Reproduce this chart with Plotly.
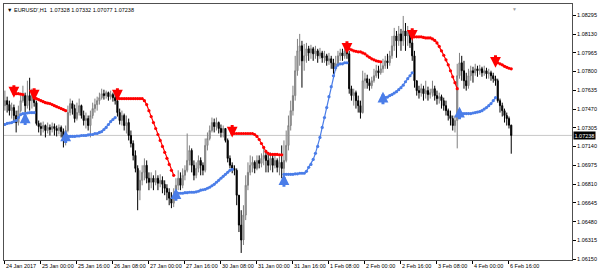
import plotly.graph_objects as go

# ---------------- data (EURUSD H1) ----------------
first_open = 1.07500
closes = [1.07544,1.07509,1.07456,1.07483,1.07413,1.07351,1.07456,1.07544,1.07588,1.07500,
1.07588,1.07544,1.07605,1.07526,1.07343,1.07316,1.07299,1.07325,1.07281,1.07308,
1.07290,1.07316,1.07299,1.07281,1.07308,1.07272,1.07194,1.07281,1.07439,1.07518,
1.07474,1.07386,1.07439,1.07500,1.07413,1.07369,1.07386,1.07325,1.07413,1.07474,
1.07509,1.07544,1.07570,1.07605,1.07588,1.07614,1.07579,1.07597,1.07570,1.07544,
1.07439,1.07369,1.07413,1.07325,1.07351,1.07237,1.07167,1.07062,1.06948,1.06756,
1.06843,1.06913,1.06975,1.06861,1.06826,1.06861,1.06826,1.06861,1.06817,1.06843,
1.06808,1.06773,1.06738,1.06686,1.06642,1.06712,1.06799,1.06861,1.06799,1.06887,
1.06931,1.07018,1.07106,1.06975,1.06887,1.06948,1.07018,1.06975,1.06931,1.07150,
1.07211,1.07281,1.07351,1.07316,1.07351,1.07299,1.07264,1.07299,1.07194,1.07036,
1.06975,1.06948,1.06931,1.06712,1.06449,1.06318,1.06537,1.06799,1.06913,1.06975,
1.07001,1.06948,1.07018,1.06992,1.07036,1.07062,1.07018,1.06975,1.07036,1.06975,
1.07018,1.06957,1.07001,1.06948,1.07018,1.07150,1.07325,1.07456,1.07588,1.07807,
1.07982,1.08026,1.07894,1.07938,1.08000,1.07964,1.08000,1.07956,1.07982,1.07938,
1.07964,1.07921,1.07938,1.07894,1.07912,1.07877,1.07824,1.07868,1.07938,1.07964,
1.07938,1.07982,1.07956,1.07649,1.07588,1.07614,1.07544,1.07500,1.07439,1.07719,
1.07737,1.07702,1.07675,1.07719,1.07763,1.07807,1.07789,1.07824,1.07851,1.07894,
1.07877,1.07938,1.08026,1.08113,1.08070,1.08131,1.08070,1.08157,1.08113,1.08140,
1.08052,1.07938,1.07719,1.07632,1.07614,1.07649,1.07605,1.07632,1.07597,1.07614,
1.07649,1.07588,1.07562,1.07579,1.07544,1.07500,1.07456,1.07413,1.07386,1.07325,
1.07369,1.07763,1.07877,1.07807,1.07719,1.07675,1.07763,1.07807,1.07789,1.07824,
1.07807,1.07824,1.07789,1.07807,1.07780,1.07789,1.07763,1.07737,1.07719,1.07544,
1.07500,1.07456,1.07413,1.07386,1.07328,1.07238]
highs = [1.07632,1.07579,1.07544,1.07526,1.07509,1.07456,1.07500,1.07588,1.07675,1.07614,
1.07719,1.07745,1.07649,1.07614,1.07544,1.07369,1.07351,1.07360,1.07334,1.07351,
1.07334,1.07351,1.07343,1.07325,1.07334,1.07325,1.07299,1.07325,1.07500,1.07562,
1.07544,1.07509,1.07526,1.07562,1.07509,1.07456,1.07439,1.07413,1.07456,1.07526,
1.07562,1.07579,1.07614,1.07649,1.07640,1.07632,1.07623,1.07632,1.07614,1.07605,
1.07579,1.07474,1.07456,1.07430,1.07413,1.07386,1.07281,1.07194,1.07106,1.06975,
1.06931,1.06975,1.07036,1.07018,1.06913,1.06913,1.06887,1.06931,1.06887,1.06896,
1.06878,1.06843,1.06808,1.06773,1.06738,1.06773,1.06861,1.06931,1.06913,1.06948,
1.06975,1.07255,1.07150,1.07124,1.07018,1.07001,1.07062,1.07045,1.07001,1.07211,
1.07264,1.07325,1.07395,1.07386,1.07395,1.07360,1.07334,1.07325,1.07299,1.07211,
1.07062,1.07001,1.06975,1.06948,1.06712,1.06580,1.06624,1.06887,1.07001,1.07062,
1.07053,1.07018,1.07062,1.07062,1.07080,1.07124,1.07106,1.07089,1.07089,1.07062,
1.07062,1.07036,1.07053,1.07150,1.07194,1.07281,1.07413,1.07544,1.07675,1.07938,
1.08087,1.08131,1.08070,1.08043,1.08052,1.08026,1.08035,1.08017,1.08026,1.08000,
1.08008,1.07982,1.07982,1.07956,1.07964,1.07938,1.07912,1.07938,1.07982,1.08000,
1.08000,1.08026,1.08026,1.07982,1.07675,1.07649,1.07632,1.07588,1.07544,1.07807,
1.07789,1.07772,1.07737,1.07754,1.07824,1.07859,1.07851,1.07877,1.07912,1.07938,
1.07956,1.07982,1.08113,1.08184,1.08157,1.08201,1.08175,1.08289,1.08227,1.08201,
1.08157,1.08087,1.07982,1.07719,1.07675,1.07693,1.07675,1.07719,1.07667,1.07649,
1.07719,1.07675,1.07632,1.07614,1.07597,1.07570,1.07544,1.07474,1.07456,1.07413,
1.07413,1.07868,1.07964,1.07938,1.07894,1.07789,1.07824,1.07851,1.07842,1.07868,
1.07851,1.07859,1.07842,1.07851,1.07833,1.07824,1.07807,1.07789,1.07763,1.07737,
1.07562,1.07526,1.07474,1.07439,1.07404,1.07332]
lows = [1.07456,1.07439,1.07413,1.07386,1.07351,1.07264,1.07325,1.07439,1.07526,1.07439,
1.07474,1.07456,1.07474,1.07491,1.07325,1.07264,1.07237,1.07264,1.07220,1.07255,
1.07237,1.07264,1.07237,1.07229,1.07246,1.07220,1.07132,1.07150,1.07264,1.07413,
1.07421,1.07351,1.07369,1.07413,1.07386,1.07325,1.07299,1.07281,1.07220,1.07386,
1.07439,1.07456,1.07509,1.07553,1.07553,1.07562,1.07544,1.07553,1.07535,1.07509,
1.07404,1.07334,1.07325,1.07281,1.07255,1.07194,1.07132,1.07018,1.06913,1.06580,
1.06668,1.06799,1.06843,1.06817,1.06756,1.06773,1.06756,1.06799,1.06756,1.06782,
1.06729,1.06712,1.06668,1.06624,1.06598,1.06607,1.06668,1.06756,1.06756,1.06773,
1.06843,1.06913,1.06975,1.06913,1.06843,1.06861,1.06913,1.06887,1.06887,1.06913,
1.07106,1.07194,1.07264,1.07264,1.07281,1.07255,1.07220,1.07220,1.07176,1.07001,
1.06948,1.06905,1.06887,1.06624,1.06388,1.06204,1.06274,1.06493,1.06756,1.06887,
1.06913,1.06905,1.06931,1.06948,1.06957,1.06975,1.06913,1.06913,1.06931,1.06913,
1.06948,1.06913,1.06887,1.06861,1.06870,1.07001,1.07106,1.07281,1.07413,1.07544,
1.07763,1.07851,1.07658,1.07807,1.07877,1.07894,1.07912,1.07894,1.07912,1.07877,
1.07912,1.07877,1.07877,1.07851,1.07859,1.07824,1.07780,1.07807,1.07842,1.07894,
1.07894,1.07912,1.07912,1.07605,1.07544,1.07500,1.07474,1.07439,1.07386,1.07430,
1.07649,1.07649,1.07632,1.07649,1.07702,1.07745,1.07737,1.07772,1.07789,1.07824,
1.07824,1.07851,1.07912,1.07982,1.07921,1.08026,1.07982,1.08026,1.07982,1.08026,
1.08008,1.07894,1.07658,1.07588,1.07562,1.07579,1.07544,1.07562,1.07544,1.07562,
1.07579,1.07544,1.07509,1.07518,1.07474,1.07456,1.07413,1.07369,1.07325,1.07281,
1.07264,1.07124,1.07737,1.07719,1.07649,1.07632,1.07649,1.07719,1.07702,1.07763,
1.07754,1.07772,1.07754,1.07763,1.07737,1.07737,1.07719,1.07702,1.07675,1.07526,
1.07439,1.07404,1.07351,1.07325,1.07299,1.07077]

# trailing indicator segments: (first bar index, values)
red_segments = [
    (5, [1.07605,1.07605,1.07601,1.07597]),
    (13, [1.07570,1.07562,1.07553,1.07544,1.07535,1.07526,1.07522,1.07518,1.07509,1.07500,
          1.07491,1.07483,1.07474,1.07465,1.07456]),
    (50, [1.07562,1.07562,1.07562,1.07562,1.07562,1.07562,1.07562,1.07562,1.07562,1.07562,
          1.07562,1.07562,1.07544,1.07509,1.07456,1.07404,1.07351,1.07299,1.07246,1.07194,
          1.07141,1.07089,1.07036,1.06983,1.06931,1.06887]),
    (101, [1.07255,1.07255,1.07255,1.07255,1.07255,1.07255,1.07255,1.07255,1.07255,1.07255,
           1.07246,1.07229,1.07202,1.07167,1.07132,1.07097,1.07080,1.07071,1.07071,1.07071,
           1.07071,1.07067,1.07067]),
    (152, [1.08000,1.08000,1.07991,1.07982,1.07978,1.07973,1.07973,1.07964,1.07956,1.07938,
           1.07925,1.07912,1.07903,1.07894,1.07890,1.07886]),
    (181, [1.08105,1.08105,1.08105,1.08105,1.08105,1.08100,1.08096,1.08096,1.08096,1.08087,
           1.08074,1.08052,1.08021,1.07982,1.07943,1.07903,1.07859,1.07807,1.07754,1.07702,
           1.07649]),
    (219, [1.07877,1.07868,1.07859,1.07846,1.07837,1.07829,1.07824]),
]
blue_segments = [
    (0, [1.07334,1.07343,1.07347,1.07351,1.07360,1.07369,1.07395,1.07421,1.07430,1.07430,
         1.07435,1.07439,1.07439,1.07439]),
    (27, [1.07229,1.07229,1.07229,1.07229,1.07229,1.07233,1.07233,1.07237,1.07237,1.07237,
          1.07242,1.07246,1.07246,1.07255,1.07255,1.07264,1.07272,1.07290,1.07308,1.07334,
          1.07360,1.07378,1.07395]),
    (76, [1.06729,1.06729,1.06729,1.06729,1.06734,1.06734,1.06738,1.06738,1.06738,1.06742,
          1.06747,1.06756,1.06760,1.06764,1.06773,1.06782,1.06795,1.06808,1.06826,1.06843,
          1.06861,1.06878,1.06896,1.06913,1.06931,1.06940]),
    (124, [1.06896,1.06896,1.06896,1.06896,1.06896,1.06900,1.06900,1.06905,1.06905,1.06905,
           1.06922,1.06957,1.06983,1.07027,1.07080,1.07141,1.07220,1.07308,1.07395,1.07483,
           1.07579,1.07667,1.07763,1.07833,1.07859,1.07868,1.07868,1.07877,1.07877]),
    (168, [1.07570,1.07570,1.07575,1.07588,1.07597,1.07610,1.07623,1.07640,1.07658,1.07680,
           1.07710,1.07737,1.07763,1.07789]),
    (202, [1.07430,1.07430,1.07430,1.07430,1.07430,1.07430,1.07435,1.07439,1.07443,1.07448,
           1.07456,1.07470,1.07483,1.07500,1.07518,1.07544,1.07570]),
]
sell_signals = [(4, 1.07570), (13, 1.07544), (50, 1.07544), (101, 1.07220),
                (152, 1.07956), (181, 1.08070), (218, 1.07833)]
buy_signals = [(9, 1.07439), (27, 1.07281), (76, 1.06773), (124, 1.06896),
               (168, 1.07623), (202, 1.07491)]

time_labels = ["24 Jan 2017", "25 Jan 00:00", "25 Jan 16:00", "26 Jan 08:00", "27 Jan 00:00",
               "27 Jan 16:00", "30 Jan 08:00", "31 Jan 00:00", "31 Jan 16:00", "1 Feb 08:00",
               "2 Feb 00:00", "2 Feb 16:00", "3 Feb 08:00", "4 Feb 00:00", "6 Feb 16:00"]
label_step = 16
price_ticks = [1.06150, 1.06315, 1.06480, 1.06645, 1.06810, 1.06975, 1.07140,
               1.07305, 1.07470, 1.07635, 1.07800, 1.07965, 1.08130, 1.08295]
symbol = "EURUSD',H1"

# ---------------- build ----------------
n = len(closes)
bars = list(range(n))
opens = [first_open] + closes[:-1]
highs = [max(h, o, c) for h, o, c in zip(highs, opens, closes)]
lows = [min(l, o, c) for l, o, c in zip(lows, opens, closes)]


def full_series(segments):
    arr = [None] * n
    for start, vals in segments:
        for k, v in enumerate(vals):
            arr[start + k] = v
    return arr


red_full = full_series(red_segments)
blue_full = full_series(blue_segments)

FONT = "Liberation Sans, Arial, DejaVu Sans, sans-serif"
RED = "#ff0000"
BLUE = "#4a7de8"

fig = go.Figure()
fig.add_trace(go.Candlestick(
    x=bars, open=opens, high=highs, low=lows, close=closes,
    increasing=dict(line=dict(color="#808080", width=1), fillcolor="#b4b4b4"),
    decreasing=dict(line=dict(color="#000000", width=1), fillcolor="#000000"),
    whiskerwidth=0, showlegend=False, hoverinfo="skip"))
fig.add_trace(go.Scatter(x=bars, y=red_full, mode="lines+markers", connectgaps=False,
                         line=dict(color=RED, width=1.2), marker=dict(size=3.2, color=RED),
                         showlegend=False, hoverinfo="skip"))
fig.add_trace(go.Scatter(x=bars, y=blue_full, mode="lines+markers", connectgaps=False,
                         line=dict(color=BLUE, width=1.2), marker=dict(size=3.2, color=BLUE),
                         showlegend=False, hoverinfo="skip"))

annotations = []
for i, p in sell_signals:
    annotations.append(dict(x=i, y=p, xref="x", yref="y", ax=0, ay=-14, text="",
                            showarrow=True, arrowhead=2, arrowsize=0.72, arrowwidth=3,
                            arrowcolor=RED))
for i, p in buy_signals:
    annotations.append(dict(x=i, y=p, xref="x", yref="y", ax=0, ay=14, text="",
                            showarrow=True, arrowhead=2, arrowsize=0.72, arrowwidth=3,
                            arrowcolor=BLUE))

last_close = closes[-1]
title = "▼ %s  %.5f %.5f %.5f %.5f" % (symbol, opens[-1], highs[-1], lows[-1], closes[-1])
annotations.append(dict(x=0, y=1, xref="paper", yref="paper", xanchor="left", yanchor="top",
                        xshift=1, yshift=-1, text=title, showarrow=False,
                        font=dict(family=FONT, size=5.5, color="#000")))
annotations.append(dict(x=1, y=last_close, xref="paper", yref="y", xanchor="left",
                        yanchor="middle", text="%.5f" % last_close, showarrow=False,
                        bgcolor="#000000", borderpad=0.5, xshift=1,
                        font=dict(family=FONT, size=5.5, color="#ffffff")))
annotations.append(dict(x=0.898, y=1, xref="paper", yref="paper", xanchor="center",
                        yanchor="top", text="▼", showarrow=False,
                        font=dict(family=FONT, size=5, color="#a0a0a0")))

fig.update_layout(
    width=600, height=273,
    margin=dict(l=3, r=26, t=3, b=13),
    paper_bgcolor="#ffffff", plot_bgcolor="#ffffff",
    font=dict(family=FONT, size=5.5, color="#000"),
    annotations=annotations,
    shapes=[dict(type="line", xref="paper", yref="y", x0=0, x1=1, y0=last_close,
                 y1=last_close, line=dict(color="#c8c8c8", width=1), layer="below")],
    xaxis=dict(range=[-0.4, 252], tickvals=[k * label_step for k in range(len(time_labels))],
               ticktext=time_labels, ticks="outside", ticklen=3, tickcolor="#000",
               tickangle=0,
               tickfont=dict(family=FONT, size=5.5, color="#000"),
               ticklabelposition="outside right",
               showline=True, mirror=True, linecolor="#505050", linewidth=1,
               showgrid=False, zeroline=False, rangeslider=dict(visible=False)),
    yaxis=dict(side="right", range=[1.06142, 1.08394], tickvals=price_ticks,
               ticktext=["%.5f" % v for v in price_ticks], ticks="outside", ticklen=3,
               tickcolor="#000", tickfont=dict(family=FONT, size=5.5, color="#000"),
               showline=True, mirror=True, linecolor="#505050", linewidth=1,
               showgrid=False, zeroline=False),
)

fig.write_html("out.html")
